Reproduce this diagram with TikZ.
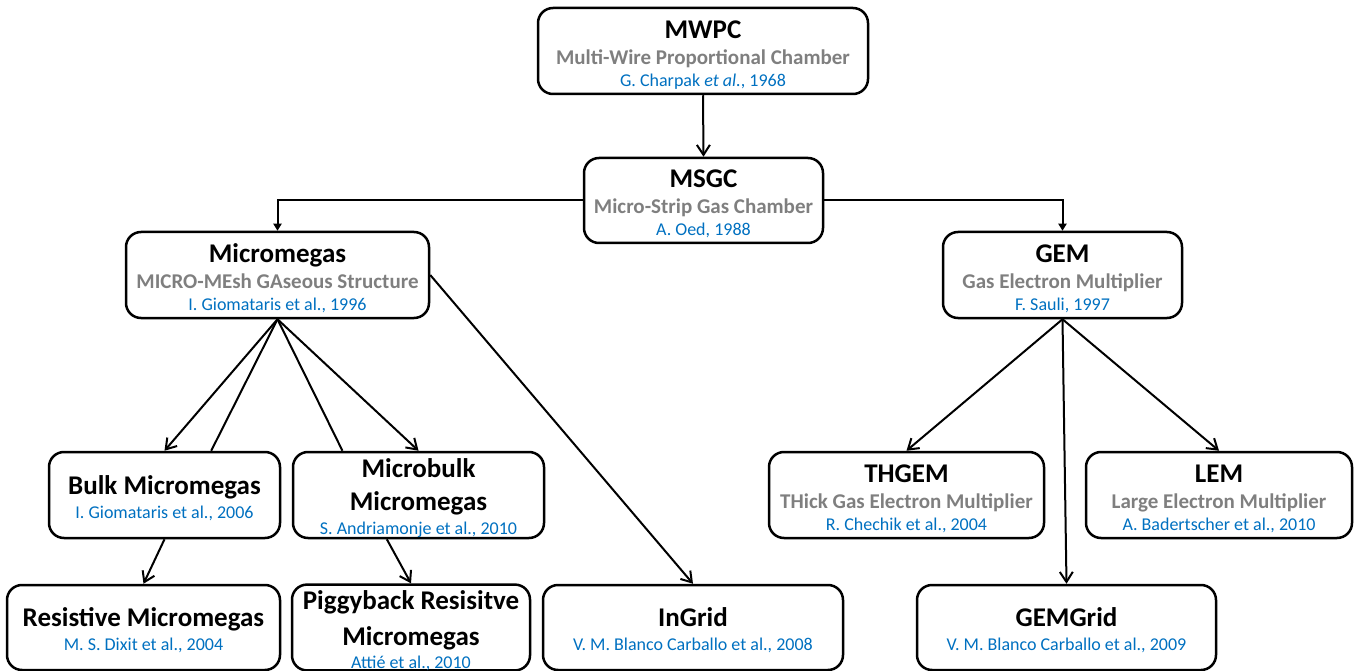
\documentclass[tikz,border=0pt]{standalone}
\usepackage{fontspec}
\setmainfont{Carlito}
\usetikzlibrary{arrows.meta,calc}
\definecolor{subgrey}{HTML}{7F7F7F}
\definecolor{citeblue}{HTML}{0070C0}
\newcommand{\dtitle}{\bfseries\color{black}\fontsize{27}{33}\selectfont}
\newcommand{\dhead}[1]{\raisebox{0pt}[25pt]{\dtitle #1}}
\newcommand{\dfull}{\bfseries\color{subgrey}\fontsize{21}{26}\selectfont}
\newcommand{\dcite}{\mdseries\color{citeblue}\fontsize{18}{22}\selectfont}
\tikzset{
  detector/.style={draw, line width=2.5pt, rounded corners=15pt, align=center,
    inner sep=0pt, minimum height=86pt, font=\fontsize{18}{22}\selectfont},
  link/.style={line width=2pt, -{Straight Barb[length=10pt,width=13pt]}},
  feed/.style={line width=2pt, -{Triangle[length=7pt,width=8pt]}},
  bare/.style={line width=2pt}
}
\begin{document}
\begin{tikzpicture}[x=1pt,y=-1pt]
  % the frame
  \useasboundingbox (0,0) rectangle (1360,671);

  % wire and strip chambers
  \node[detector, minimum width=330pt] (mwpc) at (703,51)
    {\dhead{MWPC}\\[4pt] \dfull Multi-Wire Proportional Chamber\\ \dcite G. Charpak \textit{et al.}, 1968};
  \node[detector, minimum width=239pt, minimum height=85pt] (msgc) at (703.5,200.5)
    {\dhead{MSGC}\\[4pt] \dfull Micro-Strip Gas Chamber\\ \dcite A. Oed, 1988};

  % the two families
  \node[detector, minimum width=303pt] (mmegas) at (277.5,275)
    {\dhead{Micromegas}\\[4pt] \dfull MICRO-MEsh GAseous Structure\\ \dcite I. Giomataris et al., 1996};
  \node[detector, minimum width=239pt] (gem) at (1062.5,275)
    {\dhead{GEM}\\[4pt] \dfull Gas Electron Multiplier\\ \dcite F. Sauli, 1997};

  % second generation
  \node[detector, minimum width=231pt] (bulk) at (164.5,495)
    {\dhead{Bulk Micromegas}\\[2pt] \dcite I. Giomataris et al., 2006};
  \node[detector, minimum width=251pt] (mbulk) at (418.5,495)
    {\dhead{Microbulk}\\[11pt] \dtitle Micromegas\\[2pt] \dcite S. Andriamonje et al., 2010};
  \node[detector, minimum width=275pt] (thgem) at (906.5,495)
    {\dhead{THGEM}\\[4pt] \dfull THick Gas Electron Multiplier\\ \dcite R. Chechik et al., 2004};
  \node[detector, minimum width=266pt] (lem) at (1219,495)
    {\dhead{LEM}\\[4pt] \dfull Large Electron Multiplier\\ \dcite A. Badertscher et al., 2010};

  % bottom row
  \node[detector, minimum width=273pt, minimum height=85pt] (resist) at (143.5,627.5)
    {\dhead{Resistive Micromegas}\\[2pt] \dcite M. S. Dixit et al., 2004};
  \node[detector, minimum width=238pt, minimum height=85pt] (piggy) at (411,627.5)
    {\dhead{Piggyback Resisitve}\\[11pt] \dtitle Micromegas\\[1pt] \dcite Atti\'e et al., 2010};
  \node[detector, minimum width=300pt, minimum height=85pt] (ingrid) at (693,627.5)
    {\dhead{InGrid}\\[2pt] \dcite V. M. Blanco Carballo et al., 2008};
  \node[detector, minimum width=299pt, minimum height=85pt] (gemgrid) at (1066.5,627.5)
    {\dhead{GEMGrid}\\[2pt] \dcite V. M. Blanco Carballo et al., 2009};

  % connectors
  \draw[link] (mwpc.south) -- (msgc.north);
  \draw[feed] (msgc.west) -| (mmegas.north);
  \draw[feed] (msgc.east) -| (gem.north);

  \coordinate (bulktop) at ($(bulk.north)!0.4!(bulk.north east)$);
  \coordinate (mbulktop) at ($(mbulk.north west)!0.4!(mbulk.north)$);
  \coordinate (mbulkfoot) at ($(mbulk.south west)!0.75!(mbulk.south)$);
  \draw[link] (mmegas.south) -- (bulk.north);
  \draw[bare] (mmegas.south) -- (bulktop);
  \draw[bare] (mmegas.south) -- (mbulktop);
  \draw[link] (mmegas.south) -- (mbulk.north);
  \draw[link] (mmegas.east) -- (ingrid.north);
  \draw[link] (bulk.south) -- (resist.north);
  \draw[link] (mbulkfoot) -- (piggy.north);

  \draw[link] (gem.south) -- (thgem.north);
  \draw[link] (gem.south) -- (lem.north);
  \draw[link] (gem.south) -- (gemgrid.north);
\end{tikzpicture}
\end{document}
